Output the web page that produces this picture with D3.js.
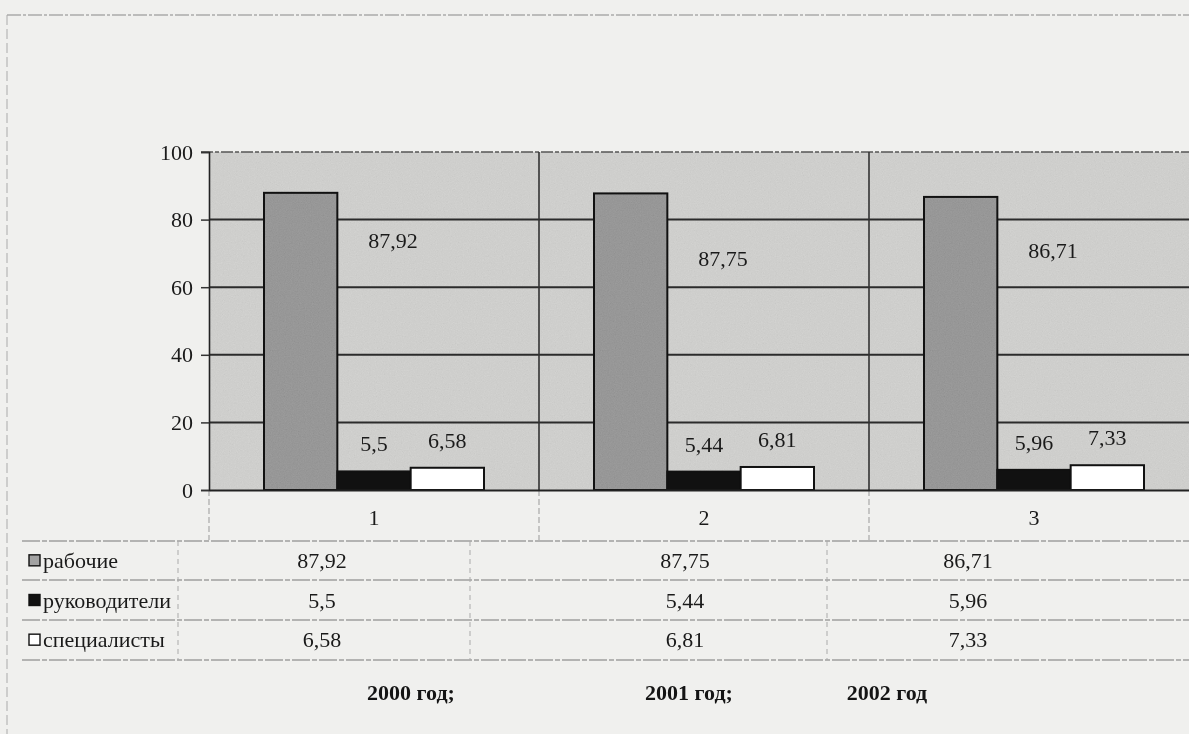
<!DOCTYPE html>
<html>
<head>
<meta charset="utf-8">
<script src="https://cdn.jsdelivr.net/npm/d3@7"></script>
<style>
  html, body { margin: 0; padding: 0; background: #f1f1ef; }
  svg { display: block; }
</style>
</head>
<body>
<svg id="chart" width="1189" height="734"></svg>
<script>
// data
const categories = ["1", "2", "3"];
const years = ["2000 год;", "2001 год;", "2002 год"];
const seriesNames = ["рабочие", "руководители", "специалисты"];
const rabochie = [87.92, 87.75, 86.71];
const rukovoditeli = [5.5, 5.44, 5.96];
const specialisty = [6.58, 6.81, 7.33];
const yTicks = [0, 20, 40, 60, 80, 100];

const SERIES_FILL = ["#a2a2a2", "#111111", "#ffffff"];
const fmt = (v) => String(v).replace(".", ",");

const W = 1189, H = 734;
const plot = { left: 209, right: 1199, top: 152, bottom: 490 };
// the table under the chart is not aligned with the categories
const TABLE_COL_X = [322, 685, 968];
const YEAR_X = [411, 689, 887];
const BIG_LABEL_DY = [55, 73, 61];
const FONT = "'Liberation Serif', 'Times New Roman', serif";

const svg = d3.select("#chart");

const defs = svg.append("defs");
const grain = defs.append("filter").attr("id", "grain").attr("x", 0).attr("y", 0).attr("width", 1).attr("height", 1);
grain.append("feTurbulence").attr("type", "fractalNoise").attr("baseFrequency", 0.85).attr("numOctaves", 2).attr("seed", 7);
grain.append("feColorMatrix").attr("type", "matrix")
  .attr("values", "0.33 0.33 0.33 0 0  0.33 0.33 0.33 0 0  0.33 0.33 0.33 0 0  0 0 0 0 1");

// page
svg.append("rect").attr("width", W).attr("height", H).attr("fill", "#f0f0ee");
svg.append("line").attr("x1", 7).attr("x2", W).attr("y1", 15).attr("y2", 15)
  .attr("stroke", "#888").attr("stroke-width", 1.2).attr("stroke-dasharray", "14 2 3 2");
svg.append("line").attr("x1", 7).attr("x2", 7).attr("y1", 15).attr("y2", H)
  .attr("stroke", "#aaa").attr("stroke-width", 1).attr("stroke-dasharray", "10 4");

const y = d3.scaleLinear().domain([0, 100]).range([plot.bottom, plot.top]);
const x0 = d3.scaleBand().domain(categories).range([plot.left, plot.right]).paddingInner(0).paddingOuter(0);
const x1 = d3.scaleBand().domain(seriesNames).range([0, x0.bandwidth()]).paddingInner(0).paddingOuter(0.75);

// plot background with scan grain
svg.append("rect").attr("x", plot.left).attr("y", plot.top)
  .attr("width", plot.right - plot.left).attr("height", plot.bottom - plot.top)
  .attr("fill", "#d8d8d6");
svg.append("rect").attr("x", plot.left).attr("y", plot.top)
  .attr("width", plot.right - plot.left).attr("height", plot.bottom - plot.top)
  .attr("filter", "url(#grain)").attr("opacity", 0.16)
  .style("mix-blend-mode", "multiply");

// horizontal gridlines
svg.append("g").selectAll("line")
  .data(yTicks.filter((t) => t > 0 && t < 100))
  .join("line")
  .attr("x1", plot.left).attr("x2", plot.right)
  .attr("y1", (d) => y(d)).attr("y2", (d) => y(d))
  .attr("stroke", "#2b2b2b").attr("stroke-width", 2);
svg.append("line").attr("x1", plot.left - 8).attr("x2", plot.right)
  .attr("y1", y(100)).attr("y2", y(100))
  .attr("stroke", "#555").attr("stroke-width", 1.5).attr("stroke-dasharray", "12 2 4 2");

// category separators (run down into the table header)
svg.append("g").selectAll("line")
  .data(categories.slice(1))
  .join("line")
  .attr("x1", (d) => x0(d)).attr("x2", (d) => x0(d))
  .attr("y1", plot.top).attr("y2", plot.bottom)
  .attr("stroke", "#333").attr("stroke-width", 1.6);
svg.append("g").selectAll("line")
  .data(categories)
  .join("line")
  .attr("x1", (d) => x0(d)).attr("x2", (d) => x0(d))
  .attr("y1", plot.bottom).attr("y2", 540)
  .attr("stroke", "#999").attr("stroke-width", 1).attr("stroke-dasharray", "6 3");

// bars
const rows = categories.map((c, i) => ({
  cat: c,
  vals: [rabochie[i], rukovoditeli[i], specialisty[i]],
}));
const groups = svg.append("g").selectAll("g")
  .data(rows)
  .join("g")
  .attr("transform", (d) => `translate(${x0(d.cat)},0)`);
groups.selectAll("rect")
  .data((d) => d.vals.map((v, k) => ({ v, s: seriesNames[k], k })))
  .join("rect")
  .attr("x", (d) => x1(d.s))
  .attr("y", (d) => y(d.v))
  .attr("width", x1.bandwidth())
  .attr("height", (d) => y(0) - y(d.v))
  .attr("fill", (d) => SERIES_FILL[d.k])
  .attr("stroke", "#111").attr("stroke-width", 2);
// grain on the grey bars
groups.append("rect")
  .attr("x", x1(seriesNames[0]) + 1)
  .attr("y", (d) => y(d.vals[0]) + 1)
  .attr("width", x1.bandwidth() - 2)
  .attr("height", (d) => y(0) - y(d.vals[0]) - 2)
  .attr("filter", "url(#grain)").attr("opacity", 0.25)
  .style("mix-blend-mode", "multiply");

// data labels
groups.append("text")
  .attr("x", x1(seriesNames[1]) + x1.bandwidth() / 2 + 19)
  .attr("y", (d, i) => y(d.vals[0]) + BIG_LABEL_DY[i])
  .attr("text-anchor", "middle")
  .attr("font-family", FONT).attr("font-size", 22).attr("fill", "#1a1a1a")
  .text((d) => fmt(d.vals[0]));
groups.selectAll("text.small")
  .data((d) => d.vals.slice(1).map((v, k) => ({ v, s: seriesNames[k + 1] })))
  .join("text")
  .attr("class", "small")
  .attr("x", (d) => x1(d.s) + x1.bandwidth() / 2)
  .attr("y", (d) => y(d.v) - 20)
  .attr("text-anchor", "middle")
  .attr("font-family", FONT).attr("font-size", 22).attr("fill", "#1a1a1a")
  .text((d) => fmt(d.v));

// y axis
const yAxis = svg.append("g")
  .attr("transform", `translate(${plot.left},0)`)
  .call(d3.axisLeft(y).tickValues(yTicks).tickSize(8).tickPadding(8));
yAxis.select(".domain").attr("stroke", "#222").attr("stroke-width", 1.6);
yAxis.selectAll(".tick line").attr("stroke", "#333").attr("stroke-width", 1.5);
yAxis.selectAll(".tick text")
  .attr("font-family", FONT).attr("font-size", 22).attr("fill", "#1a1a1a");

// x axis
const xAxis = svg.append("g")
  .attr("transform", `translate(0,${plot.bottom})`)
  .call(d3.axisBottom(x0).tickSize(0).tickPadding(19));
xAxis.select(".domain").attr("stroke", "#222").attr("stroke-width", 2);
xAxis.selectAll(".tick text")
  .attr("font-family", FONT).attr("font-size", 22).attr("fill", "#1a1a1a");

// data table
const rowY = d3.scaleBand().domain(seriesNames).range([541, 660]);
svg.append("g").selectAll("line")
  .data([541, 580, 620, 660])
  .join("line")
  .attr("x1", 22).attr("x2", W)
  .attr("y1", (d) => d).attr("y2", (d) => d)
  .attr("stroke", "#777").attr("stroke-width", 1.2).attr("stroke-dasharray", "18 2 5 2");
svg.append("g").selectAll("line")
  .data([178, 470, 827])
  .join("line")
  .attr("x1", (d) => d).attr("x2", (d) => d)
  .attr("y1", 541).attr("y2", 660)
  .attr("stroke", "#aaa").attr("stroke-width", 1).attr("stroke-dasharray", "5 4");

const tableRows = svg.append("g").selectAll("g")
  .data(seriesNames.map((s, k) => ({ s, k, vals: [rabochie, rukovoditeli, specialisty][k] })))
  .join("g")
  .attr("transform", (d) => `translate(0,${rowY(d.s) + rowY.bandwidth() / 2})`);
tableRows.append("rect")
  .attr("x", 29).attr("y", -6).attr("width", 11).attr("height", 11)
  .attr("fill", (d) => SERIES_FILL[d.k])
  .attr("stroke", "#111").attr("stroke-width", 1.4);
tableRows.append("text")
  .attr("x", 43).attr("y", 7)
  .attr("font-family", FONT).attr("font-size", 22).attr("fill", "#1a1a1a")
  .text((d) => d.s);
tableRows.selectAll("text.val")
  .data((d) => d.vals)
  .join("text")
  .attr("class", "val")
  .attr("x", (d, i) => TABLE_COL_X[i])
  .attr("y", 7)
  .attr("text-anchor", "middle")
  .attr("font-family", FONT).attr("font-size", 22).attr("fill", "#1a1a1a")
  .text((d) => fmt(d));

// year captions
svg.append("g").selectAll("text")
  .data(years)
  .join("text")
  .attr("x", (d, i) => YEAR_X[i])
  .attr("y", 700)
  .attr("text-anchor", "middle")
  .attr("font-family", FONT).attr("font-size", 22).attr("font-weight", "bold")
  .attr("fill", "#141414")
  .text((d) => d);
</script>
</body>
</html>
